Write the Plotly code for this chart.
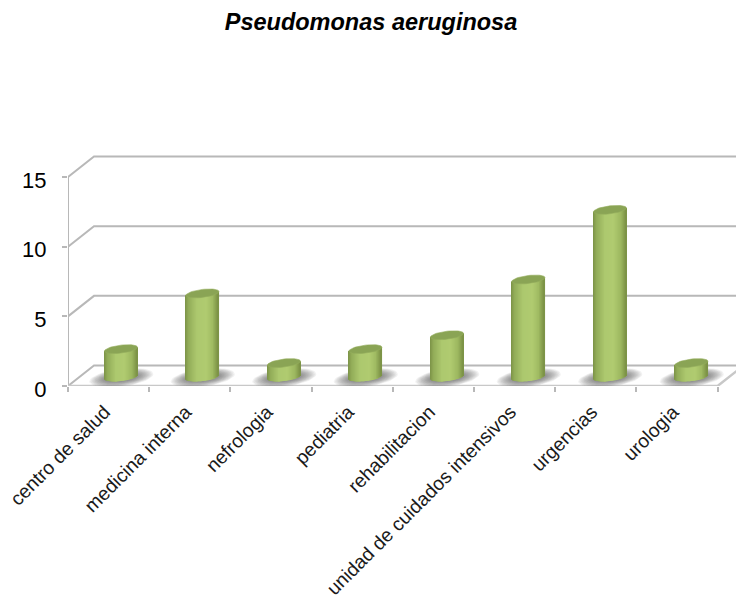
import math
import plotly.graph_objects as go

# Isolates per hospital service
categories = ["centro de salud", "medicina interna", "nefrologia", "pediatria",
              "rehabilitacion", "unidad de cuidados intensivos", "urgencias", "urologia"]
values = [2, 6, 1, 2, 3, 7, 12, 1]
y_ticks = [0, 5, 10, 15]
title_text = "Pseudomonas aeruginosa"

# Scale of the plot area and the oblique projection of the chart box
PX_X = 81.2
PX_Y = 13.93
DEPTH_X = 26 / PX_X
DEPTH_Y = 20.5 / PX_Y
X_MAX = 668 / PX_X
Y_MAX = 231 / PX_Y
GRID = "#b8b8b8"

# Cylinder proportions, in axis units
HALF_W = 16.5 / PX_X
RX_TILT = 1.9 / PX_Y
RY = 4.0 / PX_Y
BASE_Y = 9 / PX_Y
CENTER_SHIFT = 0.5 + 0.152
BAR_PITCH = 81.5 / PX_X

STOPS = [(-1.0, (122, 146, 70)), (-0.8, (146, 172, 88)), (-0.3, (172, 200, 110)),
         (0.25, (176, 203, 112)), (0.7, (156, 183, 95)), (1.0, (122, 144, 68))]


def shade(s):
    for (a, ca), (b, cb) in zip(STOPS, STOPS[1:]):
        if s <= b:
            t = (s - a) / (b - a)
            rgb = [round(ca[k] + (cb[k] - ca[k]) * t) for k in range(3)]
            return f"rgb({rgb[0]},{rgb[1]},{rgb[2]})"
    return "rgb(122,144,68)"


def ellipse(cx, cy, wide=1.0, tall=1.0):
    xs, ys = [], []
    for k in range(49):
        t = 2 * math.pi * k / 48
        xs.append(cx + HALF_W * wide * math.cos(t))
        ys.append(cy + RX_TILT * wide * math.cos(t) + RY * tall * math.sin(t))
    return xs, ys


centers = [CENTER_SHIFT + i * BAR_PITCH for i in range(len(categories))]
fig = go.Figure()

# Walls and floor of the chart box
for v in y_ticks:
    fig.add_trace(go.Scatter(x=[0, DEPTH_X, X_MAX], y=[v, v + DEPTH_Y, v + DEPTH_Y],
                             mode="lines", line=dict(color=GRID, width=2),
                             cliponaxis=False, hoverinfo="skip"))
fig.add_trace(go.Scatter(x=[0, 0], y=[0, 15], mode="lines",
                         line=dict(color=GRID, width=2), cliponaxis=False, hoverinfo="skip"))
fig.add_trace(go.Scatter(x=[0, 8, 8 + DEPTH_X], y=[0, 0, DEPTH_Y], mode="lines",
                         line=dict(color="#c8c8c8", width=2.5), cliponaxis=True, hoverinfo="skip"))

# Soft floor shadows, built from stacked translucent ellipses
for cx in centers:
    for step in range(12):
        grow = (11 - step) / 11
        xs, ys = ellipse(cx + 0.004, BASE_Y - 0.05, wide=1.02 + 0.92 * grow, tall=1.0 + 1.25 * grow)
        fig.add_trace(go.Scatter(x=xs, y=ys, mode="lines", fill="toself",
                                 fillcolor="rgba(80,80,80,0.075)", line=dict(width=0),
                                 hoverinfo="skip"))

# Cylinder bodies as narrow vertical strips of a horizontal gradient
N_STRIPS = 34
for j in range(N_STRIPS):
    s = -1 + (2 * j + 1) / N_STRIPS
    dx = s * HALF_W
    drop = RY * math.sqrt(max(0, 1 - s * s))
    tilt = RX_TILT * s
    fig.add_trace(go.Bar(
        x=[c + dx for c in centers],
        y=[v + drop for v in values],
        base=[BASE_Y + tilt - drop] * len(values),
        width=2 * HALF_W / N_STRIPS * 1.25,
        marker=dict(color=shade(s), line=dict(width=0)),
        xaxis="x2", yaxis="y2", hoverinfo="skip"))

# Cylinder caps
for cx, v in zip(centers, values):
    xs, ys = ellipse(cx, BASE_Y + v)
    fig.add_trace(go.Scatter(x=xs, y=ys, mode="lines", fill="toself",
                             fillcolor="#8aa455", line=dict(width=0.6, color="#93ad5c"),
                             xaxis="x2", yaxis="y2", hoverinfo="skip"))

font_family = "Liberation Sans, Arial, sans-serif"
fig.update_layout(
    width=736, height=601, autosize=False,
    margin=dict(l=68, r=0, t=155, b=215),
    paper_bgcolor="white", plot_bgcolor="white",
    showlegend=False, barmode="overlay",
    title=dict(text=f"<b><i>{title_text}</i></b>", x=371 / 736, xanchor="center",
               y=1 - 22 / 601, yanchor="middle",
               font=dict(family=font_family, size=23.5, color="black")),
    xaxis=dict(range=[0, X_MAX], tickvals=list(range(9)), ticktext=[""] * 9,
               ticks="outside", ticklen=5, tickwidth=2, tickcolor=GRID,
               showgrid=False, zeroline=False, showline=False),
    xaxis2=dict(range=[0, X_MAX], overlaying="x", side="bottom",
                tickvals=[i + 0.5 for i in range(len(categories))], ticktext=categories,
                tickangle=-45, ticks="", showgrid=False, zeroline=False, showline=False,
                ticklabelstandoff=10, ticklabelshift=-4,
                tickfont=dict(family=font_family, size=19.3, color="#1a1a1a")),
    yaxis=dict(range=[0, Y_MAX], tickvals=y_ticks, ticks="outside", ticklen=5, tickwidth=2,
               tickcolor=GRID, showgrid=False, zeroline=False, showline=False,
               ticklabelstandoff=11, ticklabelshift=3,
               tickfont=dict(family=font_family, size=22, color="black")),
    yaxis2=dict(range=[0, Y_MAX], overlaying="y", visible=False),
)

fig.write_html("out.html")
